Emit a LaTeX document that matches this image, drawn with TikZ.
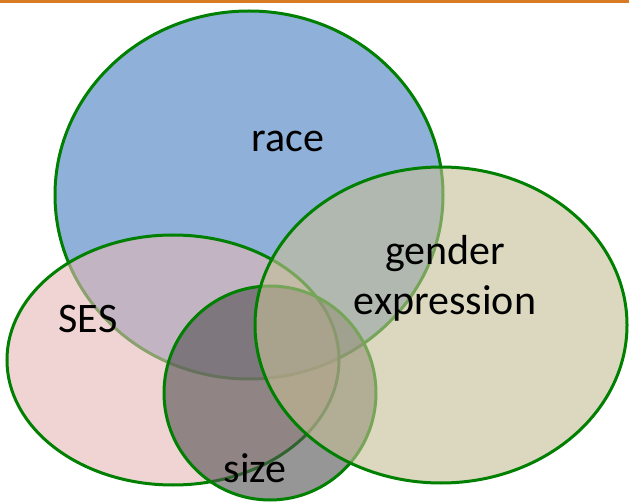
\documentclass[tikz,border=0pt]{standalone}
\usepackage{fontspec}
\setmainfont{Carlito}
\definecolor{bargold}{RGB}{217,123,36}
\definecolor{ringgreen}{RGB}{0,128,0}
\definecolor{raceblue}{RGB}{143,176,216}
\definecolor{sespink}{RGB}{230,184,184}
\definecolor{gendertan}{RGB}{198,190,150}
\definecolor{sizegrey}{RGB}{80,80,80}
\tikzset{
  ring/.style={draw=ringgreen, line width=3pt},
  lbl/.style={inner sep=0pt, anchor=base, font=\fontsize{42}{49}\selectfont, text=black}
}
\begin{document}
\begin{tikzpicture}[x=1pt,y=-1pt]
\useasboundingbox (0,0) rectangle (629,502);
\fill[white] (0,0) rectangle (629,502);
\fill[bargold] (0,0) rectangle (629,3.5);
% race
\path[ring, fill=raceblue] (249,195) ellipse [x radius=194, y radius=184];
% SES
\path[ring, fill=sespink, fill opacity=0.6] (173,360) ellipse [x radius=166, y radius=125];
% size
\path[ring, fill=sizegrey, fill opacity=0.6] (270,393) ellipse [x radius=106, y radius=107];
% gender expression
\path[ring, fill=gendertan, fill opacity=0.6] (441,325) ellipse [x radius=186, y radius=158];
\node[lbl] (race) at (288,152) {race};
\node[lbl] (ses) at (88,333) {SES};
\node[lbl] (size) at (255,482) {size};
\node[lbl] (gender) at (445,265) {gender};
\node[lbl] (expr) at (445,315) {expression};
\end{tikzpicture}
\end{document}
